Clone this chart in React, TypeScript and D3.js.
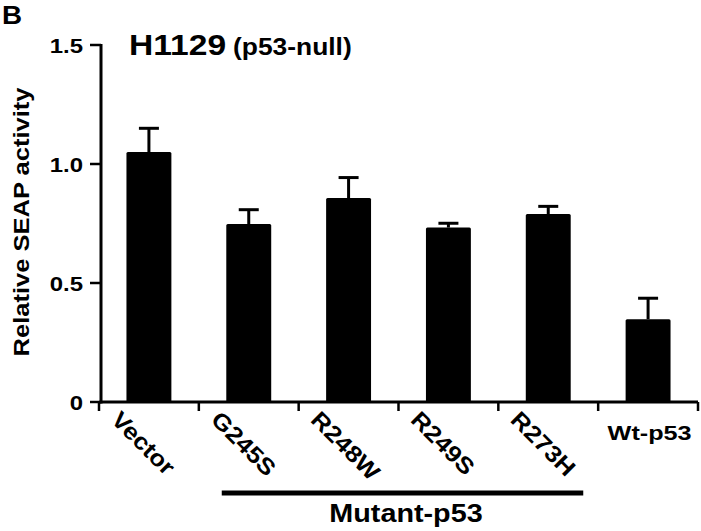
import React from "react";
import * as d3 from "d3";

const categories = ["Vector", "G245S", "R248W", "R249S", "R273H", "Wt-p53"];
const means = [1.05, 0.748, 0.857, 0.733, 0.79, 0.348];
const errors = [0.1, 0.06, 0.086, 0.018, 0.032, 0.088];
const yTicks = [0, 0.5, 1.0, 1.5];
const yTickLabels = ["0", "0.5", "1.0", "1.5"];
const rotatedLabels = [true, true, true, true, true, false];
const groupLabel = "Mutant-p53";
const groupMembers = ["G245S", "R248W", "R249S", "R273H"];

const W = 701;
const H = 531;
const FONT = "'Liberation Sans', Arial, Helvetica, sans-serif";

function SText({ x, y, sx = 1.15, size, anchor = "start", children }: any) {
  return (
    <text
      transform={`translate(${x}, ${y}) scale(${sx}, 1)`}
      textAnchor={anchor}
      fontFamily={FONT}
      fontWeight="bold"
      fontSize={size}
    >
      {children}
    </text>
  );
}

export default function App() {
  const x = d3.scaleBand<string>().domain(categories).range([99, 698]).paddingInner(0.55).paddingOuter(0.275);
  const y = d3.scaleLinear().domain([0, 1.5]).range([402, 45]);
  const step = x.step();
  const axisY = 402;
  const axisX = 101;
  const cxOf = (c: string) => (x(c) as number) + x.bandwidth() / 2;

  return (
    <svg width={W} height={H} style={{ position: "absolute", left: 0, top: 0, background: "#fff" }}>
      <rect width={W} height={H} fill="#fff" />
      <SText x={2} y={24} size={26} sx={1.07}>B</SText>
      <SText x={129} y={55} size={30} sx={1.12}>H1129</SText>
      <SText x={233} y={55} size={24} sx={1.1}>(p53-null)</SText>
      <text
        transform={`translate(29, 222) rotate(-90) scale(1.16, 1)`}
        textAnchor="middle"
        fontFamily={FONT}
        fontWeight="bold"
        fontSize={22}
      >
        Relative SEAP activity
      </text>

      {/* bars */}
      {categories.map((c, i) => (
        <rect key={c} x={x(c)} y={y(means[i])} width={x.bandwidth()} height={y(0) - y(means[i])} fill="#000" rx={1.5} />
      ))}
      {/* error bars */}
      {categories.map((c, i) => {
        const cx = cxOf(c);
        const top = y(means[i] + errors[i]);
        return (
          <g key={c + "e"} stroke="#000" strokeWidth={3}>
            <line x1={cx} x2={cx} y1={y(means[i])} y2={top} />
            <line x1={cx - 10} x2={cx + 10} y1={top} y2={top} />
          </g>
        );
      })}

      {/* y axis */}
      <line x1={axisX} x2={axisX} y1={y(1.5) - 1} y2={axisY + 1.5} stroke="#000" strokeWidth={3} />
      {yTicks.map((t, i) => (
        <g key={t}>
          <line x1={axisX - 11} x2={axisX} y1={y(t)} y2={y(t)} stroke="#000" strokeWidth={2.5} />
          <SText x={83} y={y(t) + 7.5} size={21} anchor="end" sx={1.14}>
            {yTickLabels[i]}
          </SText>
        </g>
      ))}

      {/* x axis */}
      <line x1={axisX - 1.5} x2={698} y1={axisY} y2={axisY} stroke="#000" strokeWidth={3} />
      {d3.range(categories.length + 1).map((k) => {
        const tx = 99 + k * step;
        return <line key={k} x1={tx} x2={tx} y1={axisY} y2={axisY + 9} stroke="#000" strokeWidth={2.5} />;
      })}
      {categories.map((c, i) => {
        const cx = cxOf(c);
        if (rotatedLabels[i]) {
          return (
            <text
              key={c + "l"}
              transform={`translate(${cx - 39}, 421) rotate(45) scale(1.12, 1)`}
              fontFamily={FONT}
              fontWeight="bold"
              fontSize={23}
            >
              {c}
            </text>
          );
        }
        return (
          <SText key={c + "l"} x={cx + 1.5} y={440} size={21} anchor="middle" sx={1.2}>
            {c}
          </SText>
        );
      })}

      {/* Mutant group */}
      <line
        x1={cxOf(groupMembers[0]) - 27}
        x2={cxOf(groupMembers[groupMembers.length - 1]) + 35}
        y1={493}
        y2={493}
        stroke="#000"
        strokeWidth={5}
      />
      <SText x={406} y={522} size={25} anchor="middle" sx={1.15}>
        {groupLabel}
      </SText>
    </svg>
  );
}
